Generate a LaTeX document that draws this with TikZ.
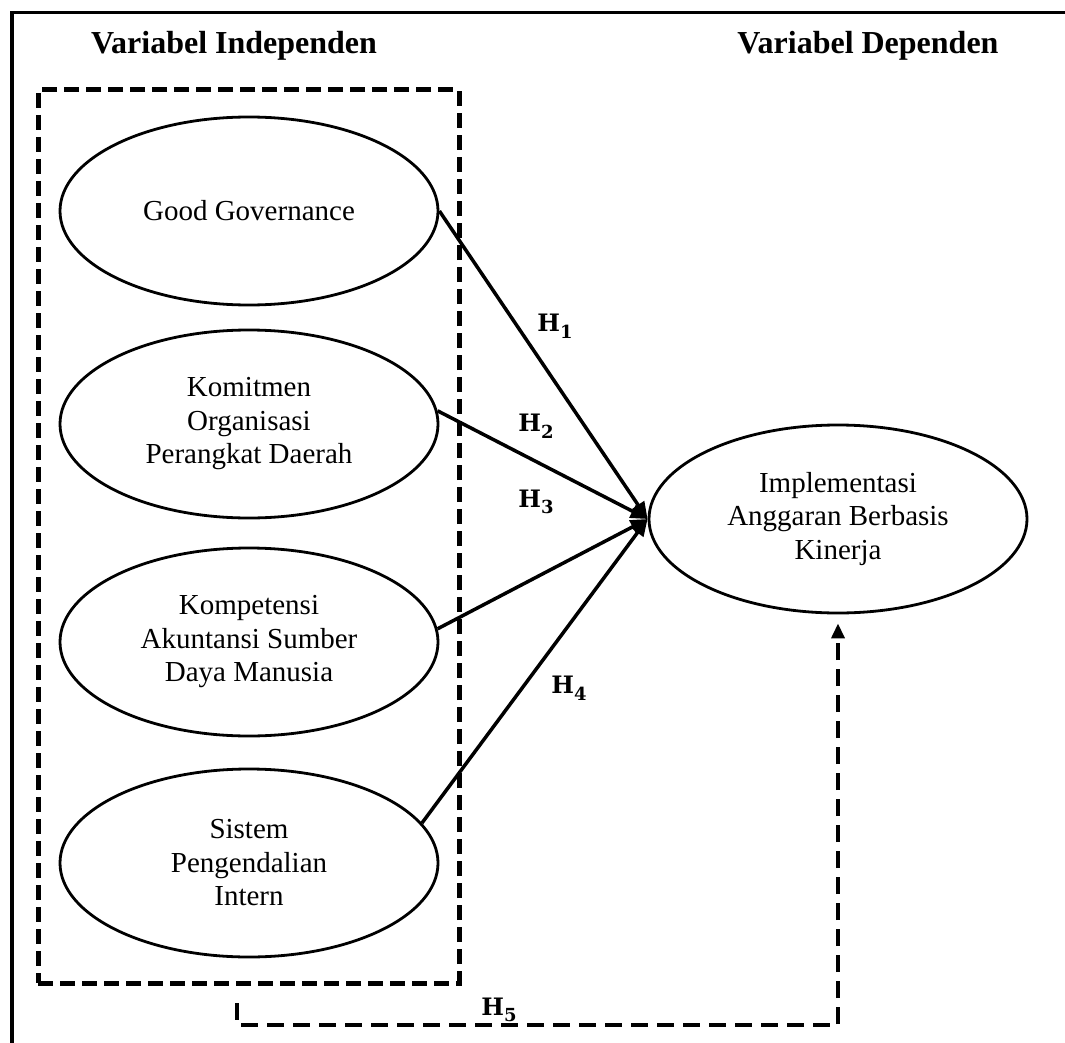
\documentclass[tikz,border=0pt]{standalone}
\usepackage{fontspec}
\setmainfont{Liberation Serif}
\newfontfamily\hypfont{DejaVu Serif}
\usetikzlibrary{shapes.geometric,arrows.meta}
\newcommand{\hyplabel}[1]{H\raisebox{-0.28em}{\fontsize{18}{18}\selectfont #1}}
\begin{document}
\begin{tikzpicture}[x=1pt,y=-1pt,
  var/.style={draw, line width=2.8pt, ellipse, minimum width=378pt, minimum height=188pt, inner sep=0pt, align=center, font=\fontsize{29}{33.5}\selectfont},
  head/.style={font=\fontsize{32}{38}\selectfont\bfseries},
  hyp/.style={font=\hypfont\fontsize{24}{28}\selectfont\bfseries, inner sep=1pt},
  link/.style={line width=3.5pt, -{Triangle[length=17pt,width=14pt]}},
  dashlink/.style={line width=3.5pt, dash pattern=on 17pt off 9pt, -{Triangle[length=15pt,width=13pt]}},
  groupbox/.style={draw, line width=5pt, dash pattern=on 15pt off 7pt, minimum width=421pt, minimum height=893pt, inner sep=0pt}
]
\useasboundingbox (0,0) rectangle (1065,1043);
% outer frame
\draw[line width=3.5pt] (12,1045) -- (12,12.5) -- (1067,12.5);
% headings
\node[head] (hi) at (234,46) {Variabel Independen};
\node[head] (hd) at (868,46) {Variabel Dependen};
% dashed group box
\node[groupbox] (box) at (248.5,536.5) {};
% variables
\node[var] (g) at (249,211) {Good Governance};
\node[var] (k) at (249,424) {Komitmen\\Organisasi\\Perangkat Daerah};
\node[var] (c) at (249,642) {Kompetensi\\Akuntansi Sumber\\Daya Manusia};
\node[var] (s) at (249,863) {Sistem\\Pengendalian\\Intern};
\node[var] (r) at (838,519) {Implementasi\\Anggaran Berbasis\\Kinerja};
% hypotheses
\draw[link] (g.east) -- (r.west);
\draw[link] (k.4) -- (r.west);
\draw[link] (c.4) -- (r.west);
\draw[link] (s.13) -- (r.west);
\node[hyp] (h1) at (555,326) {\hyplabel{1}};
\node[hyp] (h2) at (536,426) {\hyplabel{2}};
\node[hyp] (h3) at (536,502) {\hyplabel{3}};
\node[hyp] (h4) at (569,688) {\hyplabel{4}};
% simultaneous hypothesis
\coordinate (h5a) at (237,1003);
\coordinate (h5b) at (237,1025);
\draw[dashlink, shorten >=9pt] (h5a) -- (h5b) -| (r.south);
\node[hyp] (h5) at (499,1010) {\hyplabel{5}};
\end{tikzpicture}
\end{document}
